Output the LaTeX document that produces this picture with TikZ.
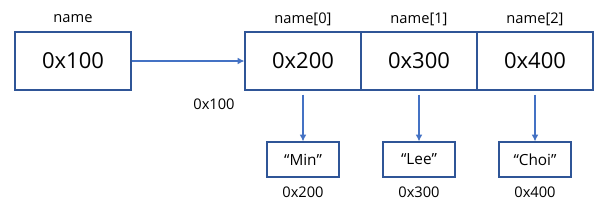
\documentclass[tikz,border=0pt]{standalone}
\usepackage{fontspec}
\setmainfont{Open Sans}
\usetikzlibrary{arrows.meta}
\definecolor{boxc}{HTML}{2F5597}
\definecolor{arrc}{HTML}{4472C4}
\begin{document}
\begin{tikzpicture}[x=0.75pt,y=-0.75pt,
  cell/.style={draw=boxc,line width=0.9pt,minimum width=116*0.75pt,minimum height=58*0.75pt,inner sep=0pt,font=\fontsize{16.5}{19}\selectfont},
  strbox/.style={draw=boxc,line width=0.9pt,minimum width=72*0.75pt,minimum height=35*0.75pt,inner sep=0pt,font=\fontsize{11.5}{14}\selectfont},
  lab/.style={inner sep=0pt,font=\fontsize{11}{13}\selectfont},
  arr/.style={draw=arrc,line width=0.8pt,-{Latex[length=5pt,width=5pt]}}]
\useasboundingbox (0,0) rectangle (606,211);
\node[cell] (p) at (73,61) {0x100};
\node[cell] (a0) at (303,61) {0x200};
\node[cell] (a1) at (419,61) {0x300};
\node[cell] (a2) at (535,61) {0x400};
\node[lab] (lp) at (73,19) {name};
\node[lab] (l0) at (303,19) {name[0]};
\node[lab] (l1) at (419,19) {name[1]};
\node[lab] (l2) at (535,19) {name[2]};
\node[lab] (addr) at (214,104) {0x100};
\node[strbox] (s0) at (303,159.5) {“Min”};
\node[strbox] (s1) at (419,159.5) {“Lee”};
\node[strbox] (s2) at (535,159.5) {“Choi”};
\node[lab] (d0) at (303,192) {0x200};
\node[lab] (d1) at (419,192) {0x300};
\node[lab] (d2) at (535,192) {0x400};
\draw[arr] (p.east) -- (a0.west);
\draw[arr] ([yshift=-4*0.75pt]a0.south) -- (s0.north);
\draw[arr] ([yshift=-4*0.75pt]a1.south) -- (s1.north);
\draw[arr] ([yshift=-4*0.75pt]a2.south) -- (s2.north);
\end{tikzpicture}
\end{document}
